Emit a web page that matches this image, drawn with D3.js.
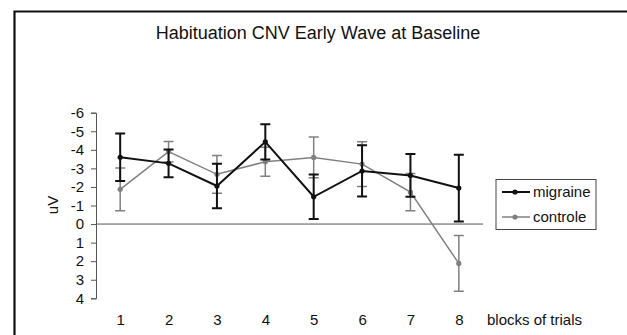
<!DOCTYPE html>
<html>
<head>
<meta charset="utf-8">
<script src="https://cdn.jsdelivr.net/npm/d3@7"></script>
<style>
  body { margin: 0; background: #fff; }
  text { font-family: "Liberation Sans", Arial, sans-serif; fill: #111; }
</style>
</head>
<body>
<div id="app"></div>
<script>
const blocks = ['1', '2', '3', '4', '5', '6', '7', '8'];
const migraine = [-3.6, -3.27, -2.05, -4.43, -1.47, -2.86, -2.62, -1.94];
const migraineErr = [1.28, 0.75, 1.2, 0.95, 1.2, 1.38, 1.15, 1.8];
const controle = [-1.87, -3.9, -2.68, -3.36, -3.59, -3.23, -1.72, 2.12];
const controleErr = [1.15, 0.55, 1.02, 0.78, 1.1, 1.2, 1.0, 1.5];
const yTicks = [-6, -5, -4, -3, -2, -1, 0, 1, 2, 3, 4];

const width = 627;
const height = 335;
const fontSize = 15;

const series = [
  { name: 'migraine', values: migraine, err: migraineErr, color: '#111', lw: 2 },
  { name: 'controle', values: controle, err: controleErr, color: '#808080', lw: 1.5 }
];

const svg = d3.select('#app').append('svg')
  .attr('width', width)
  .attr('height', height);

svg.append('rect')
  .attr('width', width)
  .attr('height', height)
  .attr('fill', '#fff');

// frame (top and left edge only, as in the scan)
svg.append('path')
  .attr('d', `M14.5,${height}V11.5H${width}`)
  .attr('fill', 'none')
  .attr('stroke', '#111')
  .attr('stroke-width', 2.2);

const x = d3.scalePoint()
  .domain(blocks)
  .range([96, 483])
  .padding(0.5);

const y = d3.scaleLinear()
  .domain([-6, 4])
  .range([112.7, 298.3]);

svg.append('text')
  .attr('x', 318)
  .attr('y', 38.5)
  .attr('text-anchor', 'middle')
  .attr('font-size', 18)
  .text('Habituation CNV Early Wave at Baseline');

// y axis
const yAxis = svg.append('g')
  .attr('transform', 'translate(96,0)')
  .call(d3.axisLeft(y).tickValues(yTicks).tickSize(5).tickPadding(7).tickFormat(d => String(d)));
yAxis.selectAll('text').attr('font-size', fontSize).attr('fill', '#111');
yAxis.selectAll('line, path').attr('stroke', '#555');

svg.append('text')
  .attr('transform', 'translate(58,205) rotate(-90)')
  .attr('text-anchor', 'middle')
  .attr('font-size', fontSize)
  .text('uV');

// zero line
svg.append('line')
  .attr('x1', 96)
  .attr('x2', 483)
  .attr('y1', y(0))
  .attr('y2', y(0))
  .attr('stroke', '#555')
  .attr('stroke-width', 1);

// x labels
const xAxis = svg.append('g')
  .attr('transform', `translate(0,${y(4)})`)
  .call(d3.axisBottom(x).tickSize(0).tickPadding(16));
xAxis.select('.domain').remove();
xAxis.selectAll('text').attr('font-size', fontSize).attr('fill', '#111');

svg.append('text')
  .attr('x', 487)
  .attr('y', 325)
  .attr('font-size', fontSize)
  .text('blocks of trials');

// series, controle drawn first so migraine sits on top
const line = d3.line()
  .x((d, i) => x(blocks[i]))
  .y(d => y(d));

[series[1], series[0]].forEach(s => {
  const g = svg.append('g');

  g.selectAll('.bar')
    .data(s.values)
    .enter().append('path')
    .attr('d', (d, i) => {
      const cx = x(blocks[i]);
      const y1 = y(d - s.err[i]);
      const y2 = y(d + s.err[i]);
      return `M${cx - 5},${y1}H${cx + 5}M${cx},${y1}V${y2}M${cx - 5},${y2}H${cx + 5}`;
    })
    .attr('fill', 'none')
    .attr('stroke', s.color)
    .attr('stroke-width', s.lw);

  g.append('path')
    .datum(s.values)
    .attr('d', line)
    .attr('fill', 'none')
    .attr('stroke', s.color)
    .attr('stroke-width', s.lw);

  g.selectAll('circle')
    .data(s.values)
    .enter().append('circle')
    .attr('cx', (d, i) => x(blocks[i]))
    .attr('cy', d => y(d))
    .attr('r', 2.6)
    .attr('fill', s.color);
});

// legend
const legend = svg.append('g');
legend.append('rect')
  .attr('x', 496)
  .attr('y', 179.5)
  .attr('width', 100)
  .attr('height', 50)
  .attr('fill', '#fff')
  .attr('stroke', '#444')
  .attr('stroke-width', 1);

series.forEach((s, i) => {
  const ly = 192 + i * 25;
  legend.append('line')
    .attr('x1', 502)
    .attr('x2', 530)
    .attr('y1', ly)
    .attr('y2', ly)
    .attr('stroke', s.color)
    .attr('stroke-width', s.lw);
  legend.append('circle')
    .attr('cx', 515)
    .attr('cy', ly)
    .attr('r', 2.6)
    .attr('fill', s.color);
  legend.append('text')
    .attr('x', 533)
    .attr('y', ly + 5)
    .attr('font-size', fontSize)
    .text(s.name);
});
</script>
</body>
</html>
